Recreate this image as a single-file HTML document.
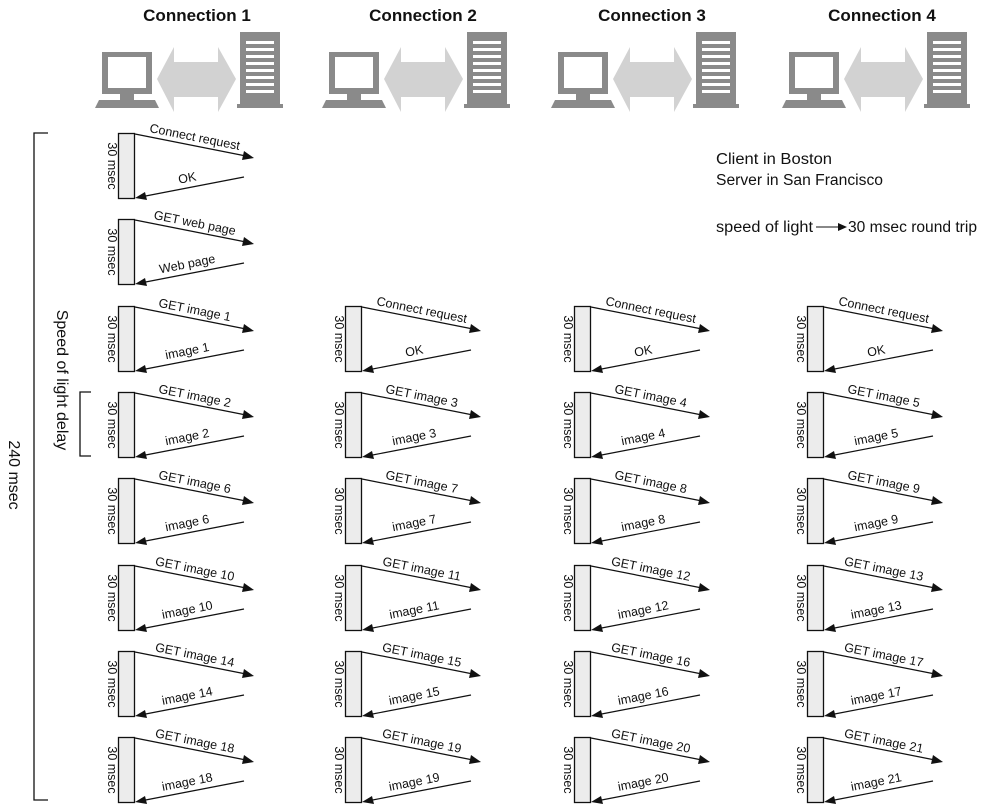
<!DOCTYPE html>
<html><head><meta charset="utf-8"><style>
html,body{margin:0;padding:0;background:#fff}
svg{display:block}
text{font-family:"Liberation Sans Narrow","Liberation Sans",sans-serif;fill:#111}
.l{font-size:12.5px}
.h{font-size:17px;font-weight:bold}
.n{font-size:15.5px}
</style></head><body>
<svg width="986" height="805" viewBox="0 0 986 805" xmlns="http://www.w3.org/2000/svg">
<defs>
<symbol id="b" overflow="visible">
<rect x="0.5" y="0.5" width="16" height="65" fill="#ececec" stroke="#111" stroke-width="1.3"/>
<line x1="17" y1="1" x2="128" y2="23" stroke="#111" stroke-width="1.2"/>
<polygon points="136,25 124,27 126,18" fill="#111"/>
<line x1="126" y1="44" x2="25" y2="63.5" stroke="#111" stroke-width="1.2"/>
<polygon points="17,65 27,59 29,67" fill="#111"/>
</symbol>
<symbol id="hd" overflow="visible">
<rect x="7" y="20" width="50" height="42" fill="#8a8a8a"/>
<rect x="13" y="25" width="38" height="31" fill="#fff"/>
<rect x="25" y="62" width="14" height="6" fill="#8a8a8a"/>
<polygon points="0,76 4,68 60,68 64,76" fill="#8a8a8a"/>
<polygon points="62,47 79,15 79,30 123,30 123,15 141,47 123,80 123,65 79,65 79,80" fill="#d2d2d2"/>
<rect x="145" y="0" width="40" height="72" fill="#8a8a8a"/>
<rect x="142" y="72" width="46" height="4" fill="#8a8a8a"/>
<g fill="#fff"><rect x="151" y="9" width="28" height="3"/><rect x="151" y="16" width="28" height="3"/><rect x="151" y="23" width="28" height="3"/><rect x="151" y="30" width="28" height="3"/><rect x="151" y="37" width="28" height="3"/><rect x="151" y="44" width="28" height="3"/><rect x="151" y="51" width="28" height="3"/><rect x="151" y="58" width="28" height="3"/></g>
</symbol>
</defs>

<text class="h" x="197" y="21" text-anchor="middle">Connection 1</text>
<text class="h" x="423" y="21" text-anchor="middle">Connection 2</text>
<text class="h" x="652" y="21" text-anchor="middle">Connection 3</text>
<text class="h" x="882" y="21" text-anchor="middle">Connection 4</text>
<use href="#hd" x="95" y="32"/>
<use href="#hd" x="322" y="32"/>
<use href="#hd" x="551" y="32"/>
<use href="#hd" x="782" y="32"/>

<text class="n" x="716" y="164" textLength="116" lengthAdjust="spacingAndGlyphs">Client in Boston</text>
<text class="n" x="716" y="185" textLength="167" lengthAdjust="spacingAndGlyphs">Server in San Francisco</text>
<text class="n" x="716" y="232" textLength="97" lengthAdjust="spacingAndGlyphs">speed of light</text>
<line x1="816" y1="227" x2="840" y2="227" stroke="#111" stroke-width="1"/>
<polygon points="847,227 838,223 838,231" fill="#111"/>
<text class="n" x="848" y="232" textLength="129" lengthAdjust="spacingAndGlyphs">30 msec round trip</text>

<path d="M48,133 H34 V800 H48" fill="none" stroke="#111" stroke-width="1.3"/>
<text class="n" transform="translate(9,475) rotate(90)" text-anchor="middle" style="font-size:16px">240 msec</text>
<path d="M91,392 H80 V456 H91" fill="none" stroke="#111" stroke-width="1.3"/>
<text class="n" transform="translate(57,380) rotate(90)" text-anchor="middle" style="font-size:16px">Speed of light delay</text>

<!-- Column 1 -->
<g transform="translate(118,133)"><use href="#b"/><text class="l" transform="translate(-10,33) rotate(90)" text-anchor="middle">30 msec</text><text class="l" transform="translate(76,8) rotate(11.3)" text-anchor="middle">Connect request</text><text class="l" transform="translate(70,49) rotate(-11)" text-anchor="middle">OK</text></g>
<g transform="translate(118,219)"><use href="#b"/><text class="l" transform="translate(-10,33) rotate(90)" text-anchor="middle">30 msec</text><text class="l" transform="translate(76,8) rotate(11.3)" text-anchor="middle">GET web page</text><text class="l" transform="translate(70,49) rotate(-11)" text-anchor="middle">Web page</text></g>
<g transform="translate(118,306)"><use href="#b"/><text class="l" transform="translate(-10,33) rotate(90)" text-anchor="middle">30 msec</text><text class="l" transform="translate(76,8) rotate(11.3)" text-anchor="middle">GET image 1</text><text class="l" transform="translate(70,49) rotate(-11)" text-anchor="middle">image 1</text></g>
<g transform="translate(118,392)"><use href="#b"/><text class="l" transform="translate(-10,33) rotate(90)" text-anchor="middle">30 msec</text><text class="l" transform="translate(76,8) rotate(11.3)" text-anchor="middle">GET image 2</text><text class="l" transform="translate(70,49) rotate(-11)" text-anchor="middle">image 2</text></g>
<g transform="translate(118,478)"><use href="#b"/><text class="l" transform="translate(-10,33) rotate(90)" text-anchor="middle">30 msec</text><text class="l" transform="translate(76,8) rotate(11.3)" text-anchor="middle">GET image 6</text><text class="l" transform="translate(70,49) rotate(-11)" text-anchor="middle">image 6</text></g>
<g transform="translate(118,565)"><use href="#b"/><text class="l" transform="translate(-10,33) rotate(90)" text-anchor="middle">30 msec</text><text class="l" transform="translate(76,8) rotate(11.3)" text-anchor="middle">GET image 10</text><text class="l" transform="translate(70,49) rotate(-11)" text-anchor="middle">image 10</text></g>
<g transform="translate(118,651)"><use href="#b"/><text class="l" transform="translate(-10,33) rotate(90)" text-anchor="middle">30 msec</text><text class="l" transform="translate(76,8) rotate(11.3)" text-anchor="middle">GET image 14</text><text class="l" transform="translate(70,49) rotate(-11)" text-anchor="middle">image 14</text></g>
<g transform="translate(118,737)"><use href="#b"/><text class="l" transform="translate(-10,33) rotate(90)" text-anchor="middle">30 msec</text><text class="l" transform="translate(76,8) rotate(11.3)" text-anchor="middle">GET image 18</text><text class="l" transform="translate(70,49) rotate(-11)" text-anchor="middle">image 18</text></g>

<!-- Column 2 -->
<g transform="translate(345,306)"><use href="#b"/><text class="l" transform="translate(-10,33) rotate(90)" text-anchor="middle">30 msec</text><text class="l" transform="translate(76,8) rotate(11.3)" text-anchor="middle">Connect request</text><text class="l" transform="translate(70,49) rotate(-11)" text-anchor="middle">OK</text></g>
<g transform="translate(345,392)"><use href="#b"/><text class="l" transform="translate(-10,33) rotate(90)" text-anchor="middle">30 msec</text><text class="l" transform="translate(76,8) rotate(11.3)" text-anchor="middle">GET image 3</text><text class="l" transform="translate(70,49) rotate(-11)" text-anchor="middle">image 3</text></g>
<g transform="translate(345,478)"><use href="#b"/><text class="l" transform="translate(-10,33) rotate(90)" text-anchor="middle">30 msec</text><text class="l" transform="translate(76,8) rotate(11.3)" text-anchor="middle">GET image 7</text><text class="l" transform="translate(70,49) rotate(-11)" text-anchor="middle">image 7</text></g>
<g transform="translate(345,565)"><use href="#b"/><text class="l" transform="translate(-10,33) rotate(90)" text-anchor="middle">30 msec</text><text class="l" transform="translate(76,8) rotate(11.3)" text-anchor="middle">GET image 11</text><text class="l" transform="translate(70,49) rotate(-11)" text-anchor="middle">image 11</text></g>
<g transform="translate(345,651)"><use href="#b"/><text class="l" transform="translate(-10,33) rotate(90)" text-anchor="middle">30 msec</text><text class="l" transform="translate(76,8) rotate(11.3)" text-anchor="middle">GET image 15</text><text class="l" transform="translate(70,49) rotate(-11)" text-anchor="middle">image 15</text></g>
<g transform="translate(345,737)"><use href="#b"/><text class="l" transform="translate(-10,33) rotate(90)" text-anchor="middle">30 msec</text><text class="l" transform="translate(76,8) rotate(11.3)" text-anchor="middle">GET image 19</text><text class="l" transform="translate(70,49) rotate(-11)" text-anchor="middle">image 19</text></g>

<!-- Column 3 -->
<g transform="translate(574,306)"><use href="#b"/><text class="l" transform="translate(-10,33) rotate(90)" text-anchor="middle">30 msec</text><text class="l" transform="translate(76,8) rotate(11.3)" text-anchor="middle">Connect request</text><text class="l" transform="translate(70,49) rotate(-11)" text-anchor="middle">OK</text></g>
<g transform="translate(574,392)"><use href="#b"/><text class="l" transform="translate(-10,33) rotate(90)" text-anchor="middle">30 msec</text><text class="l" transform="translate(76,8) rotate(11.3)" text-anchor="middle">GET image 4</text><text class="l" transform="translate(70,49) rotate(-11)" text-anchor="middle">image 4</text></g>
<g transform="translate(574,478)"><use href="#b"/><text class="l" transform="translate(-10,33) rotate(90)" text-anchor="middle">30 msec</text><text class="l" transform="translate(76,8) rotate(11.3)" text-anchor="middle">GET image 8</text><text class="l" transform="translate(70,49) rotate(-11)" text-anchor="middle">image 8</text></g>
<g transform="translate(574,565)"><use href="#b"/><text class="l" transform="translate(-10,33) rotate(90)" text-anchor="middle">30 msec</text><text class="l" transform="translate(76,8) rotate(11.3)" text-anchor="middle">GET image 12</text><text class="l" transform="translate(70,49) rotate(-11)" text-anchor="middle">image 12</text></g>
<g transform="translate(574,651)"><use href="#b"/><text class="l" transform="translate(-10,33) rotate(90)" text-anchor="middle">30 msec</text><text class="l" transform="translate(76,8) rotate(11.3)" text-anchor="middle">GET image 16</text><text class="l" transform="translate(70,49) rotate(-11)" text-anchor="middle">image 16</text></g>
<g transform="translate(574,737)"><use href="#b"/><text class="l" transform="translate(-10,33) rotate(90)" text-anchor="middle">30 msec</text><text class="l" transform="translate(76,8) rotate(11.3)" text-anchor="middle">GET image 20</text><text class="l" transform="translate(70,49) rotate(-11)" text-anchor="middle">image 20</text></g>

<!-- Column 4 -->
<g transform="translate(807,306)"><use href="#b"/><text class="l" transform="translate(-10,33) rotate(90)" text-anchor="middle">30 msec</text><text class="l" transform="translate(76,8) rotate(11.3)" text-anchor="middle">Connect request</text><text class="l" transform="translate(70,49) rotate(-11)" text-anchor="middle">OK</text></g>
<g transform="translate(807,392)"><use href="#b"/><text class="l" transform="translate(-10,33) rotate(90)" text-anchor="middle">30 msec</text><text class="l" transform="translate(76,8) rotate(11.3)" text-anchor="middle">GET image 5</text><text class="l" transform="translate(70,49) rotate(-11)" text-anchor="middle">image 5</text></g>
<g transform="translate(807,478)"><use href="#b"/><text class="l" transform="translate(-10,33) rotate(90)" text-anchor="middle">30 msec</text><text class="l" transform="translate(76,8) rotate(11.3)" text-anchor="middle">GET image 9</text><text class="l" transform="translate(70,49) rotate(-11)" text-anchor="middle">image 9</text></g>
<g transform="translate(807,565)"><use href="#b"/><text class="l" transform="translate(-10,33) rotate(90)" text-anchor="middle">30 msec</text><text class="l" transform="translate(76,8) rotate(11.3)" text-anchor="middle">GET image 13</text><text class="l" transform="translate(70,49) rotate(-11)" text-anchor="middle">image 13</text></g>
<g transform="translate(807,651)"><use href="#b"/><text class="l" transform="translate(-10,33) rotate(90)" text-anchor="middle">30 msec</text><text class="l" transform="translate(76,8) rotate(11.3)" text-anchor="middle">GET image 17</text><text class="l" transform="translate(70,49) rotate(-11)" text-anchor="middle">image 17</text></g>
<g transform="translate(807,737)"><use href="#b"/><text class="l" transform="translate(-10,33) rotate(90)" text-anchor="middle">30 msec</text><text class="l" transform="translate(76,8) rotate(11.3)" text-anchor="middle">GET image 21</text><text class="l" transform="translate(70,49) rotate(-11)" text-anchor="middle">image 21</text></g>
</svg>
</body></html>
